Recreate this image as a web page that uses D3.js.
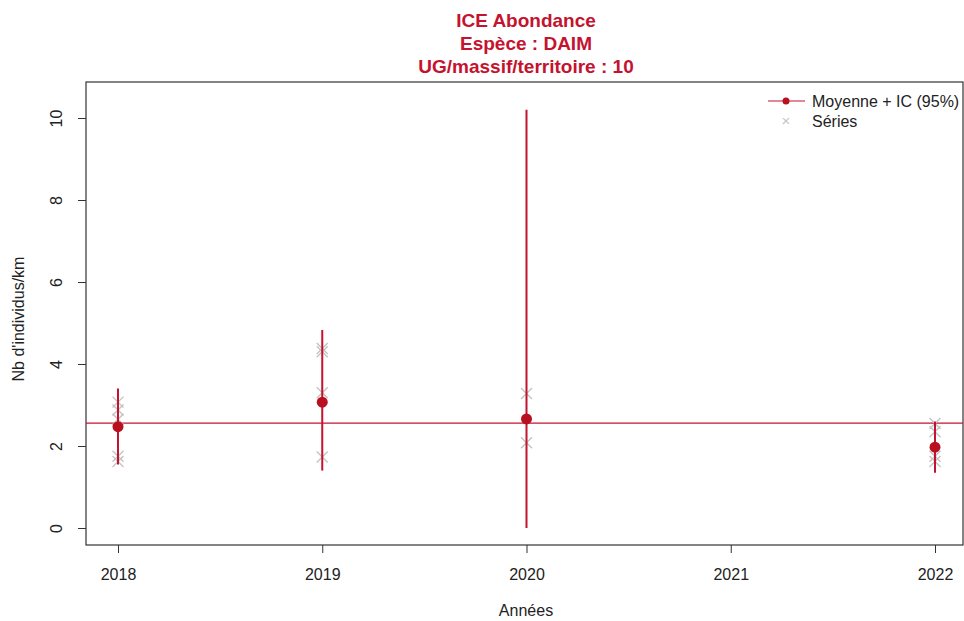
<!DOCTYPE html>
<html>
<head>
<meta charset="utf-8">
<script src="https://cdn.jsdelivr.net/npm/d3@7"></script>
<style>
  body { margin: 0; background: #fff; }
  svg { display: block; font-family: "Liberation Sans", Arial, sans-serif; }
</style>
</head>
<body>
<div id="chart"></div>
<script>
// données
var years = [2018, 2019, 2020, 2022];
var means = [2.47, 3.07, 2.66, 1.97];
var ciLow = [1.55, 1.40, 0.00, 1.35];
var ciHigh = [3.40, 4.83, 10.20, 2.60];
var series = [
  [3.07, 2.88, 2.65, 1.75, 1.62],
  [4.38, 4.30, 3.30, 1.73],
  [3.28, 2.08],
  [2.55, 2.35, 1.75, 1.62]
];
var refValue = 2.56;
var xTicks = [2018, 2019, 2020, 2021, 2022];
var yTicks = [0, 2, 4, 6, 8, 10];
var titleLines = ["ICE Abondance", "Espèce : DAIM", "UG/massif/territoire : 10"];

var W = 964, H = 621;
var red = "#c4122f", darkRed = "#b8101f", grey = "#c4c4c4";
var box = {left: 86, right: 963, top: 82, bottom: 545};

var svg = d3.select("#chart").append("svg").attr("width", W).attr("height", H);

var x = d3.scaleLinear().domain([2018, 2022]).range([118, 935]);
var y = d3.scaleLinear().domain([0, 10]).range([528, 118]);

// titre
svg.append("g").selectAll("text").data(titleLines).enter().append("text")
  .attr("x", 526).attr("y", function(d, i){ return 27 + i * 23; })
  .attr("text-anchor", "middle").attr("font-size", "19px").attr("font-weight", "bold")
  .attr("fill", red).text(function(d){ return d; });

// cadre
svg.append("rect").attr("x", box.left).attr("y", box.top)
  .attr("width", box.right - box.left).attr("height", box.bottom - box.top)
  .attr("fill", "none").attr("stroke", "#333").attr("stroke-width", 1.2);

// axe x
var xAxis = svg.append("g").attr("transform", "translate(0," + box.bottom + ")")
  .call(d3.axisBottom(x).tickValues(xTicks).tickFormat(d3.format("d")).tickSize(8).tickPadding(16));
xAxis.select(".domain").remove();
xAxis.selectAll("text").attr("font-size", "16px").attr("fill", "#222").attr("font-family", "Liberation Sans, Arial");
xAxis.selectAll("line").attr("stroke", "#333");

// axe y
var yAxis = svg.append("g").attr("transform", "translate(" + box.left + ",0)")
  .call(d3.axisLeft(y).tickValues(yTicks).tickSize(8).tickPadding(0));
yAxis.select(".domain").remove();
yAxis.selectAll("line").attr("stroke", "#333");
yAxis.selectAll("text").attr("font-size", "16px").attr("fill", "#222").attr("font-family", "Liberation Sans, Arial")
  .attr("text-anchor", "middle").attr("x", 0).attr("dy", 0)
  .attr("transform", "translate(-29,0) rotate(-90)")
  .attr("y", 5);

// titres d'axes
svg.append("text").attr("x", 526).attr("y", 616).attr("text-anchor", "middle")
  .attr("font-size", "16px").attr("fill", "#222").text("Années");
svg.append("text").attr("transform", "translate(24,319) rotate(-90)").attr("text-anchor", "middle")
  .attr("font-size", "16px").attr("fill", "#222").text("Nb d'individus/km");

// ligne de référence
svg.append("line").attr("x1", box.left).attr("x2", box.right)
  .attr("y1", y(refValue)).attr("y2", y(refValue))
  .attr("stroke", red).attr("stroke-width", 1.2);

// séries (croix)
var pts = [];
years.forEach(function(yr, i){ series[i].forEach(function(v){ pts.push({yr: yr, v: v}); }); });
var s = 5.5;
var crosses = svg.append("g").selectAll("g").data(pts).enter().append("g")
  .attr("transform", function(d){ return "translate(" + x(d.yr) + "," + y(d.v) + ")"; });
crosses.append("line").attr("x1", -s).attr("y1", -s).attr("x2", s).attr("y2", s).attr("stroke", grey).attr("stroke-width", 1.4);
crosses.append("line").attr("x1", -s).attr("y1", s).attr("x2", s).attr("y2", -s).attr("stroke", grey).attr("stroke-width", 1.4);

// IC
svg.append("g").selectAll("line").data(years).enter().append("line")
  .attr("x1", function(d){ return x(d); }).attr("x2", function(d){ return x(d); })
  .attr("y1", function(d, i){ return y(ciLow[i]); }).attr("y2", function(d, i){ return y(ciHigh[i]); })
  .attr("stroke", red).attr("stroke-width", 2);

// moyennes
svg.append("g").selectAll("circle").data(years).enter().append("circle")
  .attr("cx", function(d){ return x(d); }).attr("cy", function(d, i){ return y(means[i]); })
  .attr("r", 5.5).attr("fill", darkRed);

// légende
var lg = svg.append("g");
lg.append("line").attr("x1", 768).attr("x2", 805).attr("y1", 101).attr("y2", 101).attr("stroke", red).attr("stroke-width", 1.2);
lg.append("circle").attr("cx", 786).attr("cy", 101).attr("r", 3.5).attr("fill", darkRed);
lg.append("text").attr("x", 786).attr("y", 126).attr("text-anchor", "middle").attr("font-size", "15px").attr("fill", grey).text("×");
lg.append("text").attr("x", 812).attr("y", 107).attr("font-size", "16px").attr("fill", "#222").text("Moyenne + IC (95%)");
lg.append("text").attr("x", 812).attr("y", 127).attr("font-size", "16px").attr("fill", "#222").text("Séries");
</script>
</body>
</html>
